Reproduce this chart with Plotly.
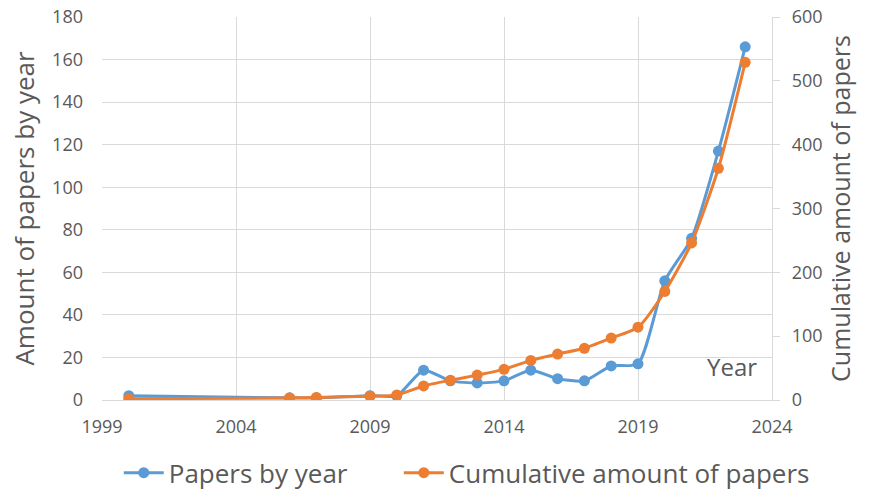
import plotly.graph_objects as go

# Publication counts per year and running total
years = [2000, 2006, 2007, 2009, 2010, 2011, 2012, 2013, 2014, 2015,
         2016, 2017, 2018, 2019, 2020, 2021, 2022, 2023]
papers_by_year = [2, 1, 1, 2, 2, 14, 9, 8, 9, 14, 10, 9, 16, 17, 56, 76, 117, 166]
cumulative = [2, 3, 4, 6, 8, 22, 31, 39, 48, 62, 72, 81, 97, 114, 170, 246, 363, 529]

x_ticks = [1999, 2004, 2009, 2014, 2019, 2024]

BLUE = "#5B9BD5"
ORANGE = "#ED7D31"
GRID = "#D9D9D9"
TEXT = "#595959"
FONT = "Open Sans"

fig = go.Figure()
fig.add_trace(go.Scatter(
    x=years, y=papers_by_year, name="Papers by year",
    mode="lines+markers", line=dict(color=BLUE, width=3, shape="spline", smoothing=0.6),
    marker=dict(size=11, color=BLUE), yaxis="y", legend="legend", showlegend=True,
))
fig.add_trace(go.Scatter(
    x=years, y=cumulative, name="Cumulative amount of papers",
    mode="lines+markers", line=dict(color=ORANGE, width=3, shape="spline", smoothing=0.6),
    marker=dict(size=11, color=ORANGE), yaxis="y2", legend="legend2", showlegend=True,
))

legend_style = dict(
    orientation="h", xanchor="left", y=-0.19, yanchor="middle",
    font=dict(size=26, color=TEXT), itemwidth=40, bgcolor="rgba(0,0,0,0)",
    visible=True,
)

fig.update_layout(
    width=870, height=493, showlegend=True,
    margin=dict(l=102, r=98, t=17, b=93, autoexpand=False),
    paper_bgcolor="white", plot_bgcolor="white",
    font=dict(family=FONT, color=TEXT, size=18),
    xaxis=dict(
        range=[1999, 2024], tickvals=x_ticks, showgrid=True, gridcolor=GRID, gridwidth=1.3,
        showline=True, linecolor=GRID, linewidth=1.3, zeroline=False, automargin=False,
        ticks="", ticklabelstandoff=10, tickfont=dict(size=18, color=TEXT),
    ),
    yaxis=dict(
        range=[0, 180], dtick=20, showgrid=True, gridcolor=GRID, gridwidth=1.3,
        zeroline=False, showline=False, ticks="", automargin=False,
        ticklabelstandoff=18,
        title=dict(text="Amount of papers by year", font=dict(size=26, color=TEXT), standoff=10),
        tickfont=dict(size=18, color=TEXT),
    ),
    yaxis2=dict(
        range=[0, 600], dtick=100, overlaying="y", side="right", showgrid=False,
        zeroline=False, showline=True, linecolor=GRID, linewidth=1.3, automargin=False,
        ticks="outside", ticklen=7, tickcolor=GRID, ticklabelstandoff=8,
        title=dict(text="Cumulative amount of papers", font=dict(size=25, color=TEXT), standoff=10),
        tickfont=dict(size=18, color=TEXT),
    ),
    legend=dict(x=0.025, **legend_style),
    legend2=dict(x=0.443, **legend_style),
    annotations=[dict(
        text="Year", x=2023.5, y=7, xref="x", yref="y", xanchor="right", yanchor="bottom",
        showarrow=False, font=dict(size=24, color=TEXT),
    )],
)

fig.write_html("out.html")
